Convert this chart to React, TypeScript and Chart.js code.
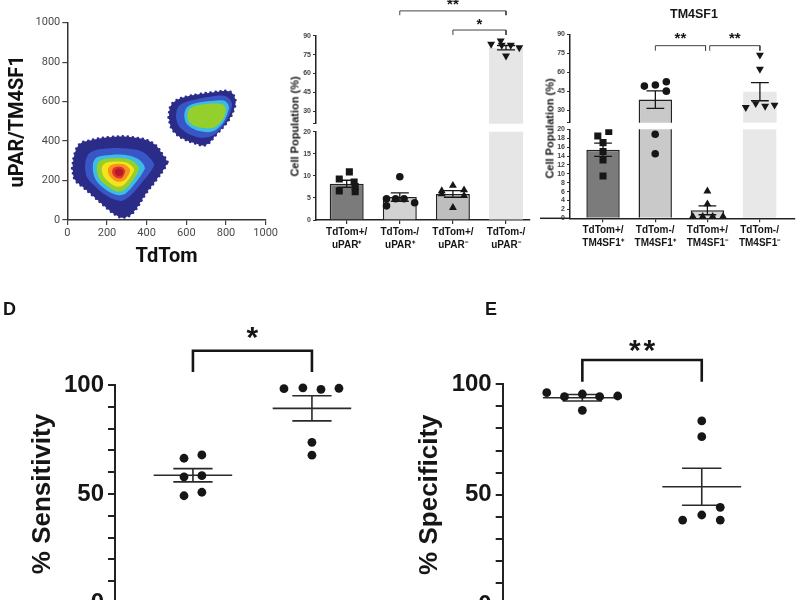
import { useEffect, useRef } from 'react';
import { Chart, registerables } from 'chart.js';

Chart.register(...registerables);

const SANS = "'Liberation Sans', Arial, Helvetica, sans-serif";
const ROBOTO = "Roboto, 'Liberation Sans', sans-serif";
const INK = '#161616';

type XY = [number, number];
type XYPoint = { x: number; y: number | null };
interface Bracket { from: number; to: number; top: number; leg: number; mark: string; markY: number }

// ===== Flow density plot: TdTom vs uPAR/TM4SF1 =====
const densityTicks = [0, 200, 400, 600, 800, 1000];
// band colours from the densest core outwards
const densityBands = ['#b3182b', '#e3312a', '#f4961e', '#f7e31c', '#94cf2c', '#3dbbe4', '#3856c6', '#2b2b88'];

// TdTom-low population: upper / lower edge of each density band (core first)
const lowPopUpper: XY[][] = [
  [[238, 243], [245, 256], [262, 261], [278, 254], [284, 242]],
  [[225, 245], [232, 262], [255, 271], [280, 266], [293, 250]],
  [[203, 248], [210, 268], [232, 282], [265, 285], [295, 278], [312, 262], [318, 250]],
  [[172, 252], [178, 275], [200, 291], [250, 297], [295, 292], [325, 275], [338, 255]],
  [[147, 255], [152, 285], [175, 305], [230, 313], [295, 310], [340, 292], [362, 265]],
  [[127, 258], [132, 295], [155, 320], [220, 330], [300, 328], [355, 310], [385, 280], [392, 262]],
  [[89, 262], [95, 310], [120, 345], [200, 362], [300, 362], [380, 345], [420, 310], [440, 280]],
  [[25, 262], [38, 338], [63, 385], [100, 400], [213, 420], [330, 419], [430, 390], [488, 322], [505, 294]],
];
const lowPopLower: XY[][] = [
  [[238, 243], [247, 228], [262, 223], [277, 228], [284, 242]],
  [[225, 245], [233, 225], [255, 211], [278, 216], [293, 250]],
  [[203, 248], [212, 225], [235, 202], [262, 194], [285, 200], [305, 222], [318, 250]],
  [[172, 252], [185, 218], [215, 188], [250, 170], [275, 172], [305, 200], [328, 235], [338, 255]],
  [[147, 255], [160, 212], [190, 180], [235, 150], [265, 144], [295, 158], [330, 200], [355, 240], [362, 265]],
  [[127, 258], [140, 210], [175, 168], [225, 135], [265, 126], [300, 140], [345, 190], [380, 240], [392, 262]],
  [[89, 262], [100, 215], [140, 170], [195, 125], [245, 101], [285, 100], [330, 135], [380, 195], [420, 245], [440, 280]],
  [[25, 262], [38, 205], [80, 166], [130, 122], [200, 60], [245, 25], [282, 12], [330, 35], [397, 135], [450, 205], [490, 262], [505, 294]],
];
// TdTom-high population (green core first)
const highPopUpper: XY[][] = [
  [[605, 525], [610, 553], [630, 573], [680, 585], [745, 590], [785, 585], [798, 568], [800, 555]],
  [[589, 525], [594, 555], [615, 580], [670, 597], [740, 605], [790, 605], [810, 588], [816, 568]],
  [[547, 525], [555, 565], [580, 590], [640, 610], [720, 625], [790, 630], [820, 612], [832, 585]],
  [[512, 520], [520, 575], [547, 605], [600, 625], [664, 637], [740, 648], [814, 652], [840, 630], [850, 595]],
];
const highPopLower: XY[][] = [
  [[605, 525], [615, 495], [645, 475], [690, 466], [735, 468], [770, 492], [792, 525], [800, 555]],
  [[589, 525], [600, 490], [630, 465], [680, 448], [730, 448], [770, 475], [800, 520], [816, 568]],
  [[547, 525], [560, 480], [590, 450], [640, 425], [700, 418], [750, 440], [790, 485], [820, 540], [832, 585]],
  [[512, 520], [522, 473], [545, 440], [580, 414], [640, 390], [697, 380], [750, 432], [814, 507], [840, 560], [850, 595]],
];

// ===== uPAR bar panel =====
const uparLabels = [['TdTom+/', 'uPAR\u207A'], ['TdTom-/', 'uPAR\u207A'], ['TdTom+/', 'uPAR\u207B'], ['TdTom-/', 'uPAR\u207B']];
const uparMean = [8.2, 5.2, 5.9, 80.5];
const uparSem = [0.8, 0.95, 0.75, 1.7];
const uparValues = [
  [10.9, 9.3, 8.6, 7.6, 6.6, 6.4],
  [9.8, 3.2, 4.8, 4.8, 4.8, 3.9],
  [6.6, 7.8, 6.8, 5.5, 5.9, 2.8],
  [83.3, 86.0, 82.5, 82.5, 80.5, 74.0],
];
const uparJitter = [
  [0.05, -0.14, 0.14, 0.16, -0.14, 0.16],
  [0, -0.25, -0.25, -0.08, 0.08, 0.28],
  [-0.21, 0, 0.21, 0.21, -0.21, 0],
  [-0.28, -0.1, -0.08, 0.09, 0.25, 0],
];
const uparBrackets: Bracket[] = [
  { from: 1, to: 3, top: 109.7, leg: 106.3, mark: '**', markY: 116.2 },
  { from: 2, to: 3, top: 94.5, leg: 90.6, mark: '*', markY: 100.3 },
];
const uparUpperTicks = [20, 30, 45, 60, 75, 90];
const uparLowerTicks = [0, 5, 10, 15, 20];

// ===== TM4SF1 bar panel =====
const tmLabels = [['TdTom+/', 'TM4SF1\u207A'], ['TdTom-/', 'TM4SF1\u207A'], ['TdTom+/', 'TM4SF1\u207B'], ['TdTom-/', 'TM4SF1\u207B']];
const tmMean = [15.4, 38.3, 1.8, 44.6];
const tmSem = [1.5, 6.9, 1.0, 7.2];
const tmValues = [
  [18.5, 19.5, 17.0, 15.0, 13.1, 9.5],
  [49.0, 49.8, 52.4, 45.0, 18.9, 14.5],
  [6.1, 3.2, 0.4, 0.4, 0.4, 0.4],
  [73.6, 62.5, 32.1, 35.2, 33.1, 34.0],
];
const tmJitter = [
  [-0.1, 0.11, 0, 0, 0, 0],
  [-0.21, 0, 0.21, 0.21, 0, 0],
  [0, 0, -0.28, -0.09, 0.1, 0.3],
  [0, 0, -0.27, -0.08, 0.1, 0.28],
];
const tmBrackets: Bracket[] = [
  { from: 1, to: 1.96, top: 81, leg: 77, mark: '**', markY: 87.6 },
  { from: 2.04, to: 3, top: 81, leg: 77, mark: '**', markY: 87.6 },
];
const tmUpperTicks = [20, 30, 45, 60, 75, 90];
const tmLowerTicks = [0, 2, 4, 6, 8, 10, 12, 14, 16, 18, 20];

// ===== Sensitivity / specificity panels =====
const percentTicks = [0, 10, 20, 30, 40, 50, 60, 70, 80, 90, 100];
const percentLabelled = [0, 50, 100];
const sensitivityValues = [[66.4, 67.9, 57.9, 58.4, 49.2, 50.8], [98.3, 98.7, 98.0, 98.5, 73.7, 67.8]];
const sensitivityJitter = [[-0.075, 0.075, -0.075, 0.075, -0.075, 0.075], [-0.235, -0.076, 0.076, 0.227, 0, 0]];
const sensitivityMean = [58.6, 89.3];
const sensitivitySem = [3.05, 5.75];
const sensitivityBracket: Bracket = { from: 0, to: 1, top: 115.7, leg: 106, mark: '*', markY: 122.9 };
const specificityValues = [[96.2, 94.4, 95.6, 94.4, 94.7, 88.2], [83.4, 76.3, 44.3, 40.8, 38.5, 38.5]];
const specificityJitter = [[-0.298, -0.15, 0, 0.145, 0.296, 0], [0, 0, 0.155, 0, -0.16, 0.155]];
const specificityMean = [93.9, 53.6];
const specificitySem = [1.45, 8.4];
const specificityBracket: Bracket = { from: 0, to: 1, top: 111, leg: 101.2, mark: '**', markY: 116.4 };

// marker look per bar group
const markerStyles = ['rect', 'circle', 'triangle', 'triangle'];
const markerRotation = [0, 0, 0, 180];
const markerRadius = [5, 3.8, 4.6, 4.6];
const uparFills = ['#7b7b7b', '#d2d2d2', '#bebebe', '#e6e6e6'];
const tmFills = ['#7b7b7b', '#c9c9c9', '#d5d5d5', '#e8e8e8'];
const barEdges = ['#222', '#222', '#222', 'rgba(0,0,0,0)'];
const barEdgeWidths = [1.5, 1.5, 1.5, 0];

// ---------- helpers ----------
const toXY = (pts: XY[]): XYPoint[] => pts.map(([x, y]) => ({ x, y }));

function errorBars(mean: number[], sem: number[], capHalf: number, meanHalf: number): XYPoint[] {
  const pts: XYPoint[] = [];
  mean.forEach((m, i) => {
    const hi = m + sem[i];
    const lo = m - sem[i];
    if (meanHalf > 0) pts.push({ x: i - meanHalf, y: m }, { x: i + meanHalf, y: m }, { x: i, y: null });
    pts.push({ x: i, y: hi }, { x: i, y: lo }, { x: i, y: null });
    pts.push({ x: i - capHalf, y: hi }, { x: i + capHalf, y: hi }, { x: i, y: null });
    pts.push({ x: i - capHalf, y: lo }, { x: i + capHalf, y: lo }, { x: i, y: null });
  });
  return pts;
}

const bracketPath = (b: Bracket): XYPoint[] => [
  { x: b.from, y: b.leg }, { x: b.from, y: b.top }, { x: b.to, y: b.top }, { x: b.to, y: b.leg },
];

// asterisks sit high in the em box: their visual centre is ~0.39em above the baseline
function starPlugin(brackets: Bracket[], size: number, spacing: number) {
  return {
    id: 'sigMarks',
    afterDatasetsDraw(chart: any) {
      const { ctx, scales } = chart;
      ctx.save();
      ctx.fillStyle = INK;
      ctx.font = `bold ${size}px ${SANS}`;
      ctx.textAlign = 'center';
      ctx.textBaseline = 'alphabetic';
      ctx.letterSpacing = `${spacing}px`;
      for (const b of brackets) {
        const cx = scales.x.getPixelForValue((b.from + b.to) / 2) + spacing / 2;
        const cy = scales.y.getPixelForValue(b.markY) + size * 0.39;
        ctx.fillText(b.mark, cx, cy);
      }
      ctx.restore();
    },
  };
}

const baseOptions = (padding: any) => ({
  responsive: false,
  maintainAspectRatio: false,
  animation: false,
  devicePixelRatio: 1,
  events: [],
  layout: { padding },
  plugins: { legend: { display: false }, tooltip: { enabled: false }, title: { display: false } },
});

// ---------- density plot ----------
function buildDensity(): any {
  const datasets: any[] = [];
  const addPopulation = (uppers: XY[][], lowers: XY[][], bandOffset: number) => {
    uppers.forEach((up, i) => {
      const outer = i === uppers.length - 1;
      const edge = outer
        ? { borderColor: '#2c2d8e', borderWidth: 2.8, borderDash: [0, 5], borderCapStyle: 'round' }
        : { borderColor: 'rgba(0,0,0,0)', borderWidth: 0 };
      datasets.push({ type: 'line', data: toXY(up), fill: '+1', backgroundColor: densityBands[i + bandOffset], pointRadius: 0, tension: 0.4, ...edge });
      datasets.push({ type: 'line', data: toXY(lowers[i]), fill: false, pointRadius: 0, tension: 0.4, ...edge });
    });
  };
  addPopulation(lowPopUpper, lowPopLower, 0);
  addPopulation(highPopUpper, highPopLower, 4);

  const axisCommon = {
    type: 'linear',
    min: 0,
    max: 1000,
    afterBuildTicks: (s: any) => { s.ticks = densityTicks.map((value) => ({ value })); },
    ticks: { callback: (v: number) => String(v), font: { family: ROBOTO, size: 11 }, color: '#4a4a4a', padding: 2, maxRotation: 0, autoSkip: false },
    grid: { display: true, drawOnChartArea: false, drawTicks: true, tickLength: 5, color: '#444', lineWidth: 1.2 },
    border: { display: true, color: '#333', width: 1.5 },
  };
  return {
    type: 'line',
    data: { datasets },
    options: {
      ...baseOptions({ left: 0, top: 22.7, right: 13.3, bottom: 0 }),
      scales: {
        x: {
          ...axisCommon,
          afterFit: (s: any) => { s.height = 50; },
          title: { display: true, text: 'TdTom', color: '#111', font: { family: ROBOTO, size: 20, weight: 'bold' }, padding: { top: 0, bottom: 1 } },
        },
        y: {
          ...axisCommon,
          afterFit: (s: any) => { s.width = 67.3; },
          title: { display: true, text: 'uPAR/TM4SF1', color: '#111', font: { family: ROBOTO, size: 20, weight: 'bold' }, padding: { top: 6, bottom: 0 } },
        },
      },
    },
  };
}

// ---------- broken-axis bar panels (one chart per axis segment) ----------
interface SegmentSpec {
  seg: 'upper' | 'lower';
  labels: string[][];
  mean: number[];
  sem: number[];
  values: number[][];
  jitter: number[][];
  fills: string[];
  ticks: number[];
  yMin: number;
  yMax: number;
  xMin: number;
  xMax: number;
  axisWidth: number;
  xHeight: number;
  padding: any;
  brackets: Bracket[];
  leadLine: number;
}

function segmentConfig(p: SegmentSpec): any {
  const upper = p.seg === 'upper';
  const clip = upper ? { left: false, right: false, top: false, bottom: 0 } : { left: false, right: false, top: 0, bottom: false };
  const keep = (v: number) => (upper ? v > p.yMin : v <= p.yMax);
  const datasets: any[] = [];
  p.values.forEach((vals, g) => {
    datasets.push({
      type: 'line',
      data: vals.map((v, k) => ({ x: g + p.jitter[g][k], y: v })).filter((pt) => keep(pt.y)),
      showLine: false,
      pointStyle: markerStyles[g],
      pointRotation: markerRotation[g],
      pointRadius: markerRadius[g],
      pointBackgroundColor: INK,
      pointBorderWidth: 0,
      clip,
    });
  });
  datasets.push({ type: 'line', data: errorBars(p.mean, p.sem, 0.17, 0), borderColor: INK, borderWidth: 1.3, pointRadius: 0, clip });
  p.brackets.forEach((b) => datasets.push({ type: 'line', data: bracketPath(b), borderColor: '#444', borderWidth: 1, pointRadius: 0, clip: false }));
  datasets.push({
    type: 'bar',
    data: p.mean.map((m, i) => ({ x: i, y: m })),
    backgroundColor: p.fills,
    borderColor: barEdges,
    borderWidth: barEdgeWidths,
    barPercentage: 0.64,
    categoryPercentage: 1,
    clip,
  });

  const plugins: any[] = [starPlugin(p.brackets, 15, 0)];
  if (p.leadLine > 0) {
    plugins.push({
      id: 'axisLead',
      afterDraw(chart: any) {
        const { ctx, chartArea } = chart;
        ctx.save();
        ctx.strokeStyle = '#222';
        ctx.lineWidth = 1.5;
        ctx.beginPath();
        ctx.moveTo(chartArea.left - p.leadLine, chartArea.bottom);
        ctx.lineTo(chartArea.left, chartArea.bottom);
        ctx.stroke();
        ctx.restore();
      },
    });
  }

  return {
    type: 'bar',
    data: { datasets },
    plugins,
    options: {
      ...baseOptions(p.padding),
      scales: {
        x: {
          type: 'linear',
          offset: false,
          min: p.xMin,
          max: p.xMax,
          display: !upper,
          afterBuildTicks: (s: any) => { s.ticks = p.labels.map((_, i) => ({ value: i })); },
          afterFit: (s: any) => { s.height = p.xHeight; },
          ticks: {
            callback: (v: number) => p.labels[v] ?? '',
            font: { family: SANS, size: 10, weight: 'bold', lineHeight: 1.25 },
            color: INK,
            padding: 2,
            maxRotation: 0,
            autoSkip: false,
          },
          grid: { display: true, offset: false, drawOnChartArea: false, drawTicks: true, tickLength: 4, color: '#333', lineWidth: 1.2 },
          border: { display: true, color: '#222', width: 1.5 },
        },
        y: {
          type: 'linear',
          min: p.yMin,
          max: p.yMax,
          afterBuildTicks: (s: any) => { s.ticks = p.ticks.map((value) => ({ value })); },
          afterFit: (s: any) => { s.width = p.axisWidth; },
          ticks: {
            callback: (v: number) => (upper && v === p.yMin ? '' : String(v)),
            font: { family: SANS, size: 7, weight: 'bold' },
            color: '#444',
            padding: 2,
            autoSkip: false,
          },
          grid: { display: true, drawOnChartArea: false, drawTicks: true, tickLength: 3, color: '#333', lineWidth: 1 },
          border: { display: true, color: '#222', width: 1.5 },
        },
      },
    },
  };
}

const uparShared = {
  labels: uparLabels, mean: uparMean, sem: uparSem, values: uparValues, jitter: uparJitter,
  fills: uparFills, xMin: -0.578, xMax: 3.452, axisWidth: 46, leadLine: 0,
};
const buildUparUpper = () => segmentConfig({
  ...uparShared, seg: 'upper', ticks: uparUpperTicks, yMin: 20, yMax: 90, xHeight: 0,
  padding: { left: 0, top: 35.7, right: 5, bottom: 6 }, brackets: uparBrackets,
});
const buildUparLower = () => segmentConfig({
  ...uparShared, seg: 'lower', ticks: uparLowerTicks, yMin: 0, yMax: 20, xHeight: 36,
  padding: { left: 0, top: 7.7, right: 5, bottom: 0 }, brackets: [],
});

const tmShared = {
  labels: tmLabels, mean: tmMean, sem: tmSem, values: tmValues, jitter: tmJitter,
  fills: tmFills, xMin: -0.633, xMax: 3.679, axisWidth: 40,
};
const buildTmUpper = () => segmentConfig({
  ...tmShared, seg: 'upper', ticks: tmUpperTicks, yMin: 20, yMax: 90, xHeight: 0, leadLine: 0,
  padding: { left: 0, top: 34.3, right: 3.3, bottom: 7.3 }, brackets: tmBrackets,
});
const buildTmLower = () => segmentConfig({
  ...tmShared, seg: 'lower', ticks: tmLowerTicks, yMin: 0, yMax: 20, xHeight: 37.7, leadLine: 30,
  padding: { left: 0, top: 11.3, right: 3.3, bottom: 0 }, brackets: [],
});

// ---------- dot plots with mean ± SEM ----------
interface DotSpec {
  values: number[][];
  jitter: number[][];
  mean: number[];
  sem: number[];
  bracket: Bracket;
  title: string;
  axisWidth: number;
  titlePad: number;
  padding: any;
  xMin: number;
  xMax: number;
  markSpacing: number;
}

function dotConfig(p: DotSpec): any {
  const datasets: any[] = p.values.map((vals, g) => ({
    type: 'line',
    data: vals.map((v, k) => ({ x: g + p.jitter[g][k], y: v })),
    showLine: false,
    pointStyle: 'circle',
    pointRadius: 4.4,
    pointBackgroundColor: INK,
    pointBorderWidth: 0,
    clip: false,
  }));
  datasets.push({ type: 'line', data: errorBars(p.mean, p.sem, 0.165, 0.33), borderColor: '#2a2a2a', borderWidth: 1.6, pointRadius: 0, clip: false });
  datasets.push({ type: 'line', data: bracketPath(p.bracket), borderColor: INK, borderWidth: 2.6, pointRadius: 0, clip: false });
  return {
    type: 'line',
    data: { datasets },
    plugins: [starPlugin([p.bracket], 30, p.markSpacing)],
    options: {
      ...baseOptions(p.padding),
      scales: {
        x: { type: 'linear', display: false, offset: false, min: p.xMin, max: p.xMax },
        y: {
          type: 'linear',
          min: 0,
          max: 100,
          afterBuildTicks: (s: any) => { s.ticks = percentTicks.map((value) => ({ value })); },
          afterFit: (s: any) => { s.width = p.axisWidth; },
          ticks: {
            callback: (v: number) => (percentLabelled.includes(v) ? String(v) : ''),
            font: { family: SANS, size: 24, weight: 'bold' },
            color: INK,
            padding: 4,
            autoSkip: false,
          },
          grid: { display: true, drawOnChartArea: false, drawTicks: true, tickLength: 7, color: '#222', lineWidth: 2 },
          border: { display: true, color: '#222', width: 2 },
          title: { display: true, text: p.title, color: INK, font: { family: SANS, size: 26, weight: 'bold' }, padding: { top: p.titlePad, bottom: 0 } },
        },
      },
    },
  };
}

const buildSensitivity = () => dotConfig({
  values: sensitivityValues, jitter: sensitivityJitter, mean: sensitivityMean, sem: sensitivitySem,
  bracket: sensitivityBracket, title: '% Sensitivity', axisWidth: 115, titlePad: 27.4,
  padding: { left: 0, top: 95, right: 10, bottom: 27 }, xMin: -0.655, xMax: 1.656, markSpacing: 0,
});
const buildSpecificity = () => dotConfig({
  values: specificityValues, jitter: specificityJitter, mean: specificityMean, sem: specificitySem,
  bracket: specificityBracket, title: '% Specificity', axisWidth: 102.7, titlePad: 14.4,
  padding: { left: 0, top: 94.3, right: 10, bottom: 24.9 }, xMin: -0.667, xMax: 1.739, markSpacing: 3,
});

// ---------- components ----------
function ChartCanvas({ left, top, width, height, build }: { left: number; top: number; width: number; height: number; build: () => any }) {
  const ref = useRef<HTMLCanvasElement | null>(null);
  useEffect(() => {
    if (!ref.current) return;
    const chart = new Chart(ref.current, build());
    return () => chart.destroy();
  }, [build]);
  return (
    <div style={{ position: 'absolute', left, top, width, height }}>
      <canvas ref={ref} width={width} height={height} style={{ display: 'block', width, height }} />
    </div>
  );
}

function Label({ x, y, text, size, rotate = false, align = 'center' }: { x: number; y: number; text: string; size: number; rotate?: boolean; align?: 'center' | 'left' }) {
  const w = 220;
  const lh = Math.round(size * 1.2);
  const left = align === 'center' ? x - w / 2 : x;
  return (
    <div
      style={{
        position: 'absolute', left, top: y - lh / 2, width: w, height: lh, lineHeight: `${lh}px`,
        textAlign: align, fontFamily: SANS, fontWeight: 'bold', fontSize: size, color: INK,
        whiteSpace: 'nowrap', transform: rotate ? 'rotate(-90deg)' : undefined, transformOrigin: '50% 50%',
      }}
    >
      {text}
    </div>
  );
}

export default function App() {
  return (
    <div style={{ position: 'absolute', left: 0, top: 0, width: 800, height: 600, overflow: 'hidden', background: '#fff' }}>
      <ChartCanvas left={0} top={0} width={280} height={270} build={buildDensity} />
      <ChartCanvas left={270} top={0} width={265} height={130} build={buildUparUpper} />
      <ChartCanvas left={270} top={124} width={265} height={132} build={buildUparLower} />
      <ChartCanvas left={530} top={0} width={270} height={130} build={buildTmUpper} />
      <ChartCanvas left={530} top={118} width={270} height={138} build={buildTmLower} />
      <ChartCanvas left={0} top={290} width={400} height={340} build={buildSensitivity} />
      <ChartCanvas left={400} top={290} width={400} height={340} build={buildSpecificity} />
      <Label x={295} y={126} text="Cell Population (%)" size={11} rotate />
      <Label x={550} y={128} text="Cell Population (%)" size={11} rotate />
      <Label x={694} y={14} text="TM4SF1" size={12.5} />
      <Label x={3} y={309} text="D" size={18} align="left" />
      <Label x={485} y={309} text="E" size={18} align="left" />
    </div>
  );
}
